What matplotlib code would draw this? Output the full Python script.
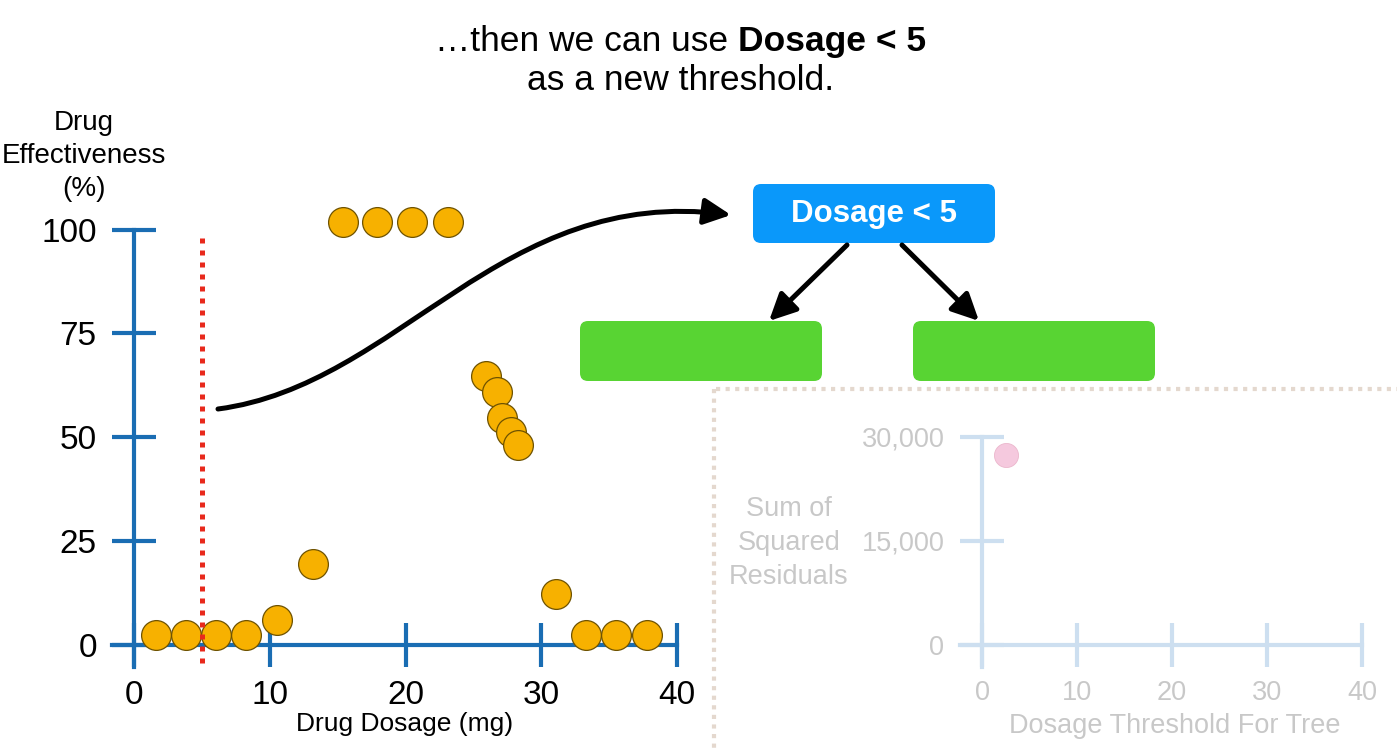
import matplotlib
matplotlib.use("Agg")
import matplotlib.pyplot as plt
from matplotlib.patches import FancyBboxPatch, FancyArrowPatch
from matplotlib.path import Path

plt.rcParams['font.family'] = ['Liberation Sans', 'DejaVu Sans']

# data
dosage = [1.6, 3.8, 6.0, 8.2, 10.5, 13.2, 15.4, 17.9, 20.5, 23.1,
          25.9, 26.7, 27.1, 27.8, 28.3, 31.1, 33.3, 35.5, 37.8]
effectiveness = [2.4, 2.4, 2.4, 2.4, 6.0, 19.5, 101.8, 101.8, 101.8, 101.8,
                 64.7, 60.9, 54.6, 51.3, 48.1, 12.3, 2.4, 2.4, 2.4]
threshold = 5
main_yticks = [0, 25, 50, 75, 100]
main_xticks = [0, 10, 20, 30, 40]

ssr_threshold = [2.5]
ssr_value = [27400]
ssr_yticks = [0, 15000, 30000]
ssr_yticklabels = ["0", "15,000", "30,000"]
ssr_xticks = [0, 10, 20, 30, 40]

W, H = 1397, 749
fig = plt.figure(figsize=(W / 100, H / 100), dpi=100)

BLUE = "#1a6db3"
ORANGE = "#f7b100"
LIGHT_BLUE = "#cddff0"
GREY = "#c8c8c8"


def place_axes(xlim, ylim, xa, xb, pxa, pxb, ya, yb, pya, pyb):
    # put an axes so that data values land on the given pixels
    sx = (pxb - pxa) / (xb - xa)
    sy = (pyb - pya) / (yb - ya)
    left = pxa + (xlim[0] - xa) * sx
    right = pxa + (xlim[1] - xa) * sx
    top = pya + (ylim[1] - ya) * sy
    bottom = pya + (ylim[0] - ya) * sy
    a = fig.add_axes([left / W, 1 - bottom / H, (right - left) / W, (bottom - top) / H])
    a.set_xlim(xlim)
    a.set_ylim(ylim)
    return a


def pix_to_axes(a, px, py):
    return a.transAxes.inverted().transform((px, H - py))


def cross_axes(a, color, ybounds, xbounds):
    a.patch.set_visible(False)
    for s in ["top", "right"]:
        a.spines[s].set_visible(False)
    for s in ["left", "bottom"]:
        a.spines[s].set_position(("data", 0))
        a.spines[s].set_color(color)
        a.spines[s].set_linewidth(3)
    a.spines["left"].set_bounds(*ybounds)
    a.spines["bottom"].set_bounds(*xbounds)
    a.tick_params(direction="inout", length=32, width=3, color=color)


# ---- main scatter ----
ax = place_axes((-2, 41), (-8, 106), 0, 40, 134.3, 677, 0, 100, 645, 229.5)
cross_axes(ax, BLUE, (-5.3, 100), (-1.64, 40))
ax.set_xticks(main_xticks)
ax.set_yticks(main_yticks)
ax.tick_params(axis="y", labelsize=24, pad=11)
ax.tick_params(axis="x", labelsize=24, pad=9)

ax.scatter(dosage, effectiveness, s=460, color=ORANGE, edgecolors="#6e5200",
           linewidths=0.9, zorder=3, clip_on=False)
ax.plot([threshold, threshold], [-4.3, 99], color="#e8291c", lw=3.6,
        linestyle=(0, (1, 1.4)), zorder=4, clip_on=False)

ax.set_xlabel("Drug Dosage (mg)", fontsize=19, va="center")
ax.xaxis.set_label_coords(*pix_to_axes(ax, 405, 724))
ax.set_ylabel("Drug\nEffectiveness\n(%)", fontsize=20, rotation=0,
              ha="center", va="center", linespacing=1.37)
ax.yaxis.set_label_coords(*pix_to_axes(ax, 84, 156))

# ---- faded SSR panel ----
ax2 = place_axes((-3, 42), (-4000, 32000), 0, 40, 982, 1362, 0, 30000, 645, 437)
cross_axes(ax2, LIGHT_BLUE, (-3200, 30000), (-2.3, 40))
ax2.set_xticks(ssr_xticks)
ax2.set_yticks(ssr_yticks)
ax2.set_yticklabels(ssr_yticklabels)
ax2.tick_params(axis="y", labelsize=19.5, pad=11, labelcolor=GREY)
ax2.tick_params(axis="x", labelsize=19.5, pad=9, labelcolor=GREY)
ax2.scatter(ssr_threshold, ssr_value, s=300, color="#f5c9de",
            edgecolors="#ebb6cc", linewidths=0.6, zorder=3, clip_on=False)
ax2.set_xlabel("Dosage Threshold For Tree", fontsize=19.5, color=GREY, va="center")
ax2.xaxis.set_label_coords(*pix_to_axes(ax2, 1175, 726))
ax2.set_ylabel("Sum of\nSquared\nResiduals", fontsize=19.5, color=GREY, rotation=0,
               ha="center", va="center", linespacing=1.42)
ax2.yaxis.set_label_coords(*pix_to_axes(ax2, 789, 543))

# ---- overlay in pixel units for title, tree and arrows ----
ov = fig.add_axes([0, 0, 1, 1])
ov.set_xlim(0, W)
ov.set_ylim(H, 0)
ov.axis("off")

# dotted frame around the faded panel
ov.plot([716, W], [389, 389], color="#e4d8ce", lw=3, linestyle=(0, (1, 1.3)))
ov.plot([714, 714], [389, H], color="#e4d8ce", lw=3, linestyle=(0, (1, 1.3)))

# title, first line mixes normal and bold
r = fig.canvas.get_renderer()
t1 = ov.text(0, 51, "\u2026then we can use", fontsize=25.5, va="baseline", ha="left")
t2 = ov.text(0, 51, "Dosage < 5", fontsize=25.5, fontweight="bold", va="baseline", ha="left")
w1 = t1.get_window_extent(r).width
w2 = t2.get_window_extent(r).width
gap = 0.278 * 25.5 * 100 / 72
x_start = 681 - (w1 + gap + w2) / 2
t1.set_x(x_start)
t2.set_x(x_start + w1 + gap)
ov.text(681, 90, "as a new threshold.", fontsize=25.5, va="baseline", ha="center")

# tree
ov.add_patch(FancyBboxPatch((753, 184), 242, 59, boxstyle="round,pad=0,rounding_size=8",
                            fc="#0a98fa", ec="none"))
ov.text(874, 214, "Dosage < 5", fontsize=22.5, fontweight="bold", color="white",
        ha="center", va="center")
for x0 in [580, 913]:
    ov.add_patch(FancyBboxPatch((x0, 321), 242, 60, boxstyle="round,pad=0,rounding_size=8",
                                fc="#58d433", ec="none"))

for (xa, ya), (xb, yb) in [((847, 245), (769, 321)), ((902, 245), (979, 321))]:
    ov.add_patch(FancyArrowPatch((xa, ya), (xb, yb), arrowstyle="-|>,head_length=0.45,head_width=0.22",
                                 mutation_scale=36, lw=3.6, color="black",
                                 shrinkA=0, shrinkB=0))

# curved arrow from the threshold line to the root node
curve = Path([(218, 409), (400, 385), (500, 185), (731, 215)],
             [Path.MOVETO, Path.CURVE4, Path.CURVE4, Path.CURVE4])
ov.add_patch(FancyArrowPatch(path=curve, arrowstyle="-|>,head_length=0.45,head_width=0.22",
                             mutation_scale=36, lw=3.6, color="black"))

fig.savefig("out.png", dpi=100)
